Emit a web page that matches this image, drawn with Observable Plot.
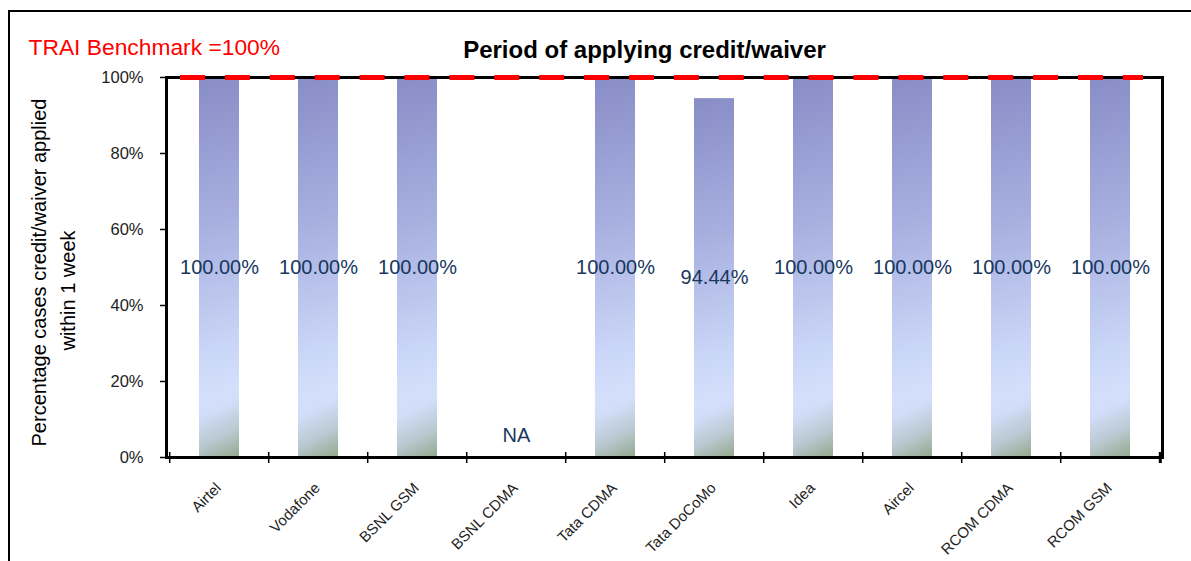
<!DOCTYPE html>
<html><head><meta charset="utf-8">
<script src="https://cdn.jsdelivr.net/npm/d3@7"></script>
<script src="https://cdn.jsdelivr.net/npm/@observablehq/plot@0.6"></script>
<style>
html,body{margin:0;padding:0;background:#fff;overflow:hidden}
#wrap{position:relative;width:1191px;height:561px;overflow:hidden}
#border{position:absolute;left:8px;top:10px;width:1300px;height:700px;border-left:2px solid #000;border-top:2px solid #000;}
#chart{position:absolute;left:0;top:0}
</style></head><body>
<div id="wrap"><div id="border"></div><div id="chart"></div></div>
<script>
const operators = ["Airtel","Vodafone","BSNL GSM","BSNL CDMA","Tata CDMA","Tata DoCoMo","Idea","Aircel","RCOM CDMA","RCOM GSM"];
const values = [1, 1, 1, null, 1, 0.9444, 1, 1, 1, 1];
const yTicks = [0, 0.2, 0.4, 0.6, 0.8, 1];
const benchmark = 1;
const titleText = "Period of applying credit/waiver";
const benchmarkText = "TRAI Benchmark =100%";
const yTitleLines = ["Percentage cases credit/waiver applied", "within 1 week"];
const naText = "NA";

const data = operators.map((o, i) => ({operator: o, value: values[i]}));
const present = data.filter(d => d.value != null);
const missing = data.filter(d => d.value == null);

const W = 1191, H = 561, mL = 166, mR = 29, mT = 77, mB = 104;
const step = (W - mL - mR) / operators.length;
const font = "'Liberation Sans', Arial, sans-serif";

const defs = () => {
  const d = d3.create("svg:defs");
  const g1 = d.append("linearGradient").attr("id", "barGrad").attr("x1", 0).attr("y1", 0).attr("x2", 0.03).attr("y2", 1);
  [[0, "#888dc6"], [0.4, "#a8b0e0"], [0.72, "#c9d5f6"], [0.85, "#d3dffb"], [1, "#ccd8f2"]]
    .forEach(([o, c]) => g1.append("stop").attr("offset", o).attr("stop-color", c));
  const g2 = d.append("linearGradient").attr("id", "greenGrad").attr("x1", 0).attr("y1", 0.9).attr("x2", 0.008).attr("y2", 1.05);
  [[0, 0], [0.5, 0.35], [1, 1]]
    .forEach(([o, a]) => g2.append("stop").attr("offset", o).attr("stop-color", "#95aa90").attr("stop-opacity", a));
  return d.node();
};

const plot = Plot.plot({
  width: W, height: H,
  marginLeft: mL, marginRight: mR, marginTop: mT, marginBottom: mB,
  style: {fontFamily: font, background: "transparent", overflow: "visible"},
  x: {domain: operators, paddingInner: 0.6, paddingOuter: 0.3, axis: null},
  y: {domain: [0, 1], axis: null},
  marks: [
    defs,
    Plot.barY(present, {x: "operator", y: "value", fill: "url(#barGrad)"}),
    Plot.barY(present, {x: "operator", y: "value", fill: "url(#greenGrad)"}),
    Plot.frame({stroke: "#000", strokeWidth: 3}),
    Plot.ruleY([0], {stroke: "#000", strokeWidth: 3}),
    Plot.ruleY([benchmark], {stroke: "#ff0000", strokeWidth: 5, strokeDasharray: "25,19.9", insetLeft: 14, insetRight: 19}),
    Plot.axisY({ticks: yTicks, tickFormat: d3.format(".0%"), label: null, tickSize: 6, tickPadding: 17, fontSize: 16.5, fill: "#222", strokeWidth: 1.5}),
    Plot.ruleX(operators, {x: d => d, y1: 0, y2: 0, dx: -step / 2, insetTop: -5, insetBottom: -6, stroke: "#000", strokeWidth: 1.5}),
    Plot.ruleX([operators[operators.length - 1]], {x: d => d, y1: 0, y2: 0, dx: step / 2, insetTop: -5, insetBottom: -6, stroke: "#000", strokeWidth: 3}),
    Plot.text(operators, {x: d => d, frameAnchor: "bottom", dx: -1, dy: 28, rotate: -45, textAnchor: "end", lineAnchor: "middle", fontSize: 15, fill: "#222"}),
    Plot.text(present, {x: "operator", y: d => d.value / 2, text: d => d3.format(".2%")(d.value), fontSize: 20, fill: "#17375e"}),
    Plot.text(missing, {x: "operator", y: 0, dy: -22, text: () => naText, fontSize: 20, fill: "#17375e"}),
    Plot.text([titleText], {frameAnchor: "top", textAnchor: "middle", dx: -20, dy: -37, fontSize: 24, fontWeight: "bold", fill: "#000"}),
    Plot.text([benchmarkText], {frameAnchor: "top-left", dx: -138, dy: -39, textAnchor: "start", fontSize: 22.8, fill: "#ff0000"}),
    Plot.text([yTitleLines[0]], {frameAnchor: "left", textAnchor: "middle", dx: -127, dy: 5, rotate: -90, fontSize: 20, fill: "#000"}),
    Plot.text([yTitleLines[1]], {frameAnchor: "left", textAnchor: "middle", dx: -98, dy: 23, rotate: -90, fontSize: 20, fill: "#000"})
  ]
});
document.getElementById("chart").appendChild(plot);
</script>
</body></html>
